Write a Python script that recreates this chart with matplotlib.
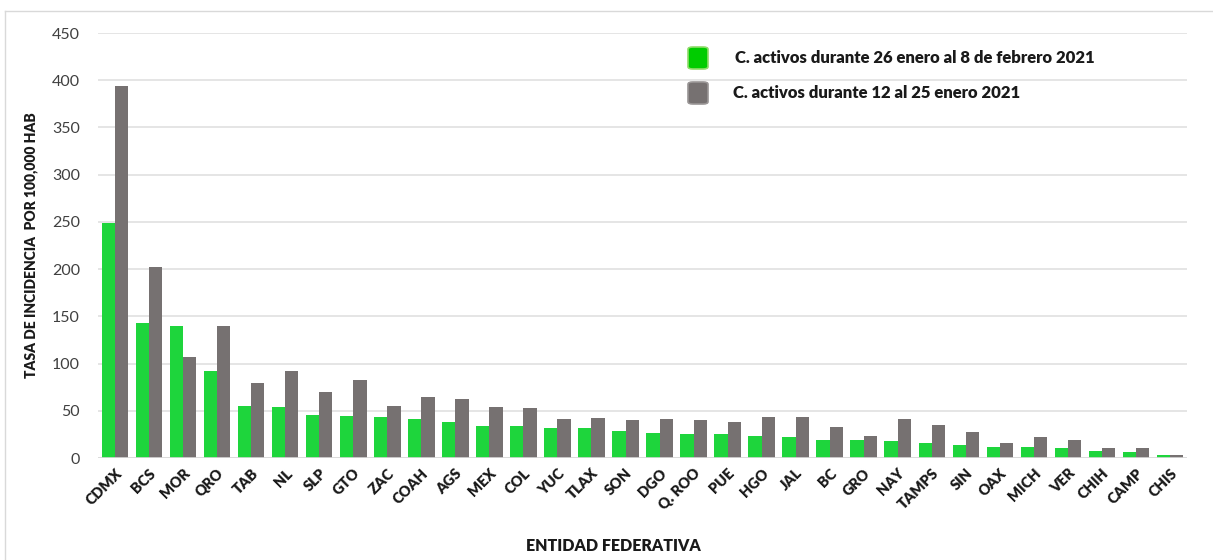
import matplotlib
matplotlib.use("Agg")
import matplotlib.pyplot as plt
from matplotlib.patches import FancyBboxPatch
from matplotlib.lines import Line2D
import numpy as np

plt.rcParams['font.family'] = ['Lato', 'DejaVu Sans']

# entidades y tasas de incidencia (casos activos por 100,000 hab)
estados = ["CDMX", "BCS", "MOR", "QRO", "TAB", "NL", "SLP", "GTO", "ZAC", "COAH",
           "AGS", "MEX", "COL", "YUC", "TLAX", "SON", "DGO", "Q. ROO", "PUE", "HGO",
           "JAL", "BC", "GRO", "NAY", "TAMPS", "SIN", "OAX", "MICH", "VER", "CHIH",
           "CAMP", "CHIS"]
periodo_feb = [249, 143, 140, 92, 55, 54, 46, 45, 43, 41,
               38, 34, 34, 32, 32, 29, 27, 26, 25, 23,
               22, 19, 19, 18, 16, 14, 12, 12, 11, 8,
               6, 3]
periodo_ene = [394, 202, 107, 140, 79, 92, 70, 83, 55, 65,
               63, 54, 53, 41, 42, 40, 41, 40, 38, 44,
               44, 33, 23, 41, 35, 28, 16, 22, 19, 11,
               11, 3]
etiquetas = ["C. activos durante 26 enero al 8 de febrero 2021",
             "C. activos durante 12 al 25 enero 2021"]

verde = "#1ed53c"
gris = "#767171"

fig = plt.figure(figsize=(12.13, 5.6), dpi=100)
ax = fig.add_axes([0.0808, 0.182, 0.8978, 0.759])

x = np.arange(len(estados))
w = 0.39
ax.bar(x - w / 2, periodo_feb, width=w, color=verde, edgecolor="none", zorder=3)
ax.bar(x + w / 2, periodo_ene, width=w, color=gris, edgecolor="none", zorder=3)

ax.set_xlim(-0.5, len(estados) - 0.5)
ax.set_ylim(0, 450)
ax.set_yticks(range(0, 451, 50))
ax.yaxis.grid(True, color="#e0e0e0", linewidth=1.2, zorder=0)
ax.set_axisbelow(True)
for s in ax.spines.values():
    s.set_visible(False)
ax.axhline(0, color="#d9d9d9", linewidth=1.2, zorder=4)
ax.tick_params(axis="both", length=0)
ax.tick_params(axis="y", labelsize=11.5, labelcolor="#404040", pad=13)
ax.set_xticks(x)
ax.set_xticklabels(estados, rotation=45, ha="right", rotation_mode="anchor",
                   fontsize=10.5, fontweight="heavy", color="#1a1a1a")
ax.tick_params(axis="x", pad=6)

ax.set_ylabel("TASA DE INCIDENCIA  POR 100,000 HAB", fontsize=10, fontweight="heavy",
              color="#1a1a1a", labelpad=10)
fig.text(0.506, 0.025, "ENTIDAD FEDERATIVA", ha="center", va="center",
         fontsize=11.5, fontweight="heavy", color="#1a1a1a")

# leyenda con cuadros redondeados
for i, (lab, col, edge) in enumerate(zip(etiquetas, ["#00cc00", gris], ["#8fdc6a", "#9a9696"])):
    yc = 1 - 58 / 560 - i * 35 / 560
    box = FancyBboxPatch((688 / 1213, yc - 11 / 560), 20 / 1213, 22 / 560,
                         boxstyle="round,pad=0.0,rounding_size=0.004",
                         transform=fig.transFigure, facecolor=col,
                         edgecolor=edge, linewidth=1.2)
    fig.patches.append(box)
    fig.text((735 - i * 2) / 1213, yc, lab, ha="left", va="center",
             fontsize=12, fontweight="heavy", color="#1a1a1a")

# marco exterior
fig.add_artist(Line2D([5 / 1213, 1], [1 - 11 / 560, 1 - 11 / 560],
                      transform=fig.transFigure, color="#d9d9d9", linewidth=1))
fig.add_artist(Line2D([5 / 1213, 5 / 1213], [0, 1 - 11 / 560],
                      transform=fig.transFigure, color="#d9d9d9", linewidth=1))

fig.savefig("out.png", dpi=100)
